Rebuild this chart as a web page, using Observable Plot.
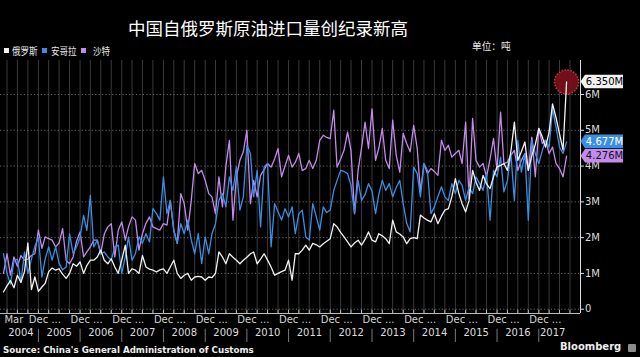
<!DOCTYPE html>
<html><head><meta charset="utf-8">
<script src="https://cdn.jsdelivr.net/npm/d3@7"></script>
<script src="https://cdn.jsdelivr.net/npm/@observablehq/plot@0.6"></script>
<style>
html,body{margin:0;padding:0;background:#000;}
#wrap{position:relative;width:640px;height:357px;overflow:hidden;background:#000;color:#fff;}
#title{position:absolute;left:128px;top:19px;font:17.5px/1 "Noto Sans CJK SC";color:#fff;white-space:nowrap;}
.lg{position:absolute;top:45.5px;font:10px/1 "Noto Sans CJK SC";color:#e8e8e8;white-space:nowrap;transform:scaleX(0.85);transform-origin:0 0;}
.sw{position:absolute;top:48px;width:4.5px;height:4.5px;}
#unit{position:absolute;left:472px;top:41px;font:10.5px/1 "Noto Sans CJK SC";color:#e8e8e8;white-space:nowrap;transform:scaleX(0.92);transform-origin:0 0;}
#chart{position:absolute;left:0;top:58px;}
#source{position:absolute;left:3px;top:345.5px;font:bold 8.7px/1 "DejaVu Sans";color:#eee;white-space:nowrap;}
#brand{position:absolute;left:560px;top:342px;font:bold 10px/1 "DejaVu Sans";color:#eee;white-space:nowrap;}
#logo{position:absolute;left:628px;top:344px;width:8px;height:8px;background:#8c8c8c;border-radius:1px;}
</style></head>
<body>
<div id="wrap">
  <div id="title"></div>
  <div id="legend"></div>
  <div id="unit"></div>
  <div id="chart"></div>
  <div id="source"></div>
  <div id="brand"></div>
  <div id="logo"></div>
</div>
<script>
// ---------- data (million tonnes per month, starting Mar 2004) ----------
const titleText = "中国自俄罗斯原油进口量创纪录新高";
const unitText = "单位：吨";
const sourceText = "Source: China's General Administration of Customs";
const brandText = "Bloomberg";
const startYear = 2004;
const startMonth = 3;
const seriesNames = ["俄罗斯", "安哥拉", "沙特"];
const russia = [
  0.48,0.65,0.80,0.60,0.95,0.75,1.05,1.85,0.55,0.90,
  0.50,0.62,0.72,1.05,1.15,1.09,1.13,0.98,0.86,1.00,
  1.27,1.20,1.32,1.00,1.22,1.37,1.37,1.46,1.65,1.37,
  1.27,1.41,1.18,1.00,1.37,1.79,1.00,1.13,1.09,1.00,
  1.50,1.18,1.12,1.09,1.04,1.10,1.13,1.00,1.18,1.37,
  1.00,0.86,0.95,1.00,0.81,0.90,0.92,0.90,0.81,0.90,
  0.88,1.00,1.60,1.46,1.27,1.55,1.45,1.37,1.27,1.37,
  1.45,1.55,1.60,1.27,1.40,1.55,1.37,1.18,0.95,1.00,
  1.05,1.09,1.37,0.81,1.55,1.55,1.65,1.79,1.65,1.84,
  1.80,1.74,1.83,1.90,1.97,2.39,2.30,2.15,2.02,1.88,
  1.74,1.85,1.93,1.79,1.95,2.16,1.93,1.88,2.11,2.05,
  1.97,1.83,2.49,2.16,2.10,2.02,1.83,1.97,2.00,1.97,
  2.63,2.55,2.49,2.44,2.67,2.39,2.60,2.77,2.81,3.14,
  3.65,3.23,2.95,2.72,3.04,3.88,3.55,3.32,3.74,3.50,
  3.37,3.70,3.98,4.02,4.07,3.88,4.40,5.23,4.16,4.40,
  4.67,3.88,4.30,4.60,5.05,4.81,4.53,4.95,5.74,5.35,
  4.90,4.45,6.35
];
const angola = [
  1.55,1.00,0.70,1.35,1.40,0.75,1.60,1.00,1.40,1.75,
  2.00,0.90,1.40,1.74,1.37,1.74,1.28,1.10,1.18,2.11,
  1.55,1.74,2.02,2.62,2.20,3.18,1.74,1.93,1.55,1.60,
  1.46,1.37,1.74,1.79,1.00,1.46,2.02,1.37,1.55,2.02,
  1.84,2.11,1.88,2.81,2.67,2.49,3.70,2.67,3.04,2.20,
  1.84,2.39,2.11,2.49,1.93,1.55,2.11,1.28,2.02,1.55,
  2.11,2.39,3.04,3.23,2.86,3.70,3.32,3.98,2.77,3.14,
  4.58,4.35,3.14,3.88,2.30,3.98,4.07,1.74,2.95,2.72,
  2.49,2.81,2.58,2.86,2.11,2.67,2.77,2.02,1.93,2.95,
  2.58,2.21,2.86,2.70,2.77,3.32,3.60,3.88,3.85,3.79,
  3.46,2.67,3.60,3.04,3.20,3.51,3.30,2.67,3.20,3.60,
  3.32,3.51,3.14,3.40,3.60,2.95,2.40,2.16,3.97,3.79,
  3.14,4.07,3.88,2.67,2.86,3.14,3.42,3.14,3.04,3.51,
  3.23,3.60,3.46,3.04,3.42,3.23,3.70,3.51,3.32,3.79,
  2.49,3.88,3.70,4.25,3.28,3.60,4.35,3.04,4.72,3.83,
  4.35,2.49,4.72,4.35,4.07,4.44,4.72,4.53,5.60,5.09,
  4.53,4.35,4.677
];
const saudi = [
  1.00,1.55,0.95,1.46,1.20,1.50,1.37,1.40,1.50,1.55,
  2.21,1.70,2.02,1.97,1.93,1.74,1.85,2.25,1.37,1.27,
  1.46,1.90,2.16,1.46,1.60,1.74,1.93,1.93,1.55,2.10,
  2.30,2.39,1.46,2.20,2.44,1.93,2.30,2.58,2.49,1.65,
  2.11,2.40,2.58,2.30,2.25,2.21,2.39,2.35,3.04,2.20,
  1.84,3.23,2.95,2.21,3.04,4.07,3.79,3.88,3.60,3.23,
  3.14,2.67,3.70,2.86,4.00,4.72,2.49,3.70,4.16,4.40,
  5.00,2.95,3.60,3.14,3.74,3.90,4.07,3.97,4.20,4.49,
  3.70,4.00,4.30,3.97,4.10,4.35,3.88,3.93,4.16,3.93,
  4.16,4.72,4.86,4.80,4.77,5.56,3.97,4.20,4.44,4.95,
  4.44,2.67,3.88,4.50,5.23,4.49,5.60,4.16,4.49,5.05,
  4.16,3.93,5.28,4.30,3.83,4.91,4.63,4.40,5.14,4.49,
  3.28,4.07,3.79,3.93,3.85,3.74,4.72,4.44,4.58,4.25,
  4.35,4.44,4.07,5.23,3.09,5.33,4.16,3.97,4.07,3.70,
  4.20,4.77,3.88,5.51,4.07,4.11,4.30,4.44,3.88,4.16,
  4.35,3.88,4.81,3.70,5.05,4.63,4.72,4.35,4.53,4.07,
  3.93,3.70,4.276
];
const yTicks = [0, 1, 2, 3, 4, 5, 6];
const yearLabels = ["2004","2005","2006","2007","2008","2009","2010","2011","2012","2013","2014","2015","2016","2017"];
const firstTickLabel = "Mar";
const yearEndTickLabel = "Dec ...";
const lastValueLabels = ["6.350M", "4.677M", "4.276M"];

// ---------- styling ----------
const seriesColors = ["#f2f2f2", "#3a8fe0", "#c48aec"];
const boxText = ["#000", "#fff", "#111"];

[russia, angola, saudi].forEach(a => { if (a.length !== 163) throw new Error("length " + a.length); });

const dateOf = i => new Date(Date.UTC(startYear, startMonth - 1 + i, 1));
const seriesValues = [russia, angola, saudi];
const rows = [];
[2, 1, 0].forEach(s => seriesValues[s].forEach((v, i) => rows.push({date: dateOf(i), value: v, series: seriesNames[s]})));
const lastIdx = russia.length - 1;
const lastDate = dateOf(lastIdx);

const xMin = new Date(Date.UTC(2004, 1, 4));
const xMax = new Date(Date.UTC(2018, 0, 1));
const yMin = -0.12, yMax = 6.95;

const quarterDates = [];
for (let d = new Date(Date.UTC(2004, 3, 1)); d < xMax; d = new Date(Date.UTC(d.getUTCFullYear(), d.getUTCMonth() + 3, 1))) quarterDates.push(d);
const firstYear = +yearLabels[0], lastYear = +yearLabels[yearLabels.length - 1];
const decDates = [];
for (let y = firstYear; y < lastYear; y++) decDates.push(new Date(Date.UTC(y, 11, 1)));
const janDates = [];
for (let y = firstYear + 1; y <= lastYear; y++) janDates.push(new Date(Date.UTC(y, 0, 1)));
const yearMids = yearLabels.map(lbl => {
  const y = +lbl;
  const a = Math.max(+new Date(Date.UTC(y, 0, 1)), +dateOf(0));
  const b = Math.min(+new Date(Date.UTC(y + 1, 0, 1)), +lastDate);
  return {date: new Date((a + b) / 2), label: lbl};
});

const boxes = [
  {value: russia[lastIdx], text: lastValueLabels[0], fill: seriesColors[0], color: boxText[0]},
  {value: angola[lastIdx], text: lastValueLabels[1], fill: seriesColors[1], color: boxText[1]},
  {value: saudi[lastIdx], text: lastValueLabels[2], fill: seriesColors[2], color: boxText[2]}
];

function valueBoxes(index, scales, values, dimensions) {
  const g = d3.create("svg:g");
  const x0 = dimensions.width - dimensions.marginRight;
  for (const b of boxes) {
    const cy = scales.y(b.value);
    g.append("path")
      .attr("d", `M${x0 + 0.5},${cy} L${x0 + 5},${cy - 6.8} H${x0 + 43} V${cy + 6.8} H${x0 + 5} Z`)
      .attr("fill", b.fill);
    g.append("text")
      .attr("x", x0 + 24.5).attr("y", cy).attr("dy", "0.36em")
      .attr("text-anchor", "middle")
      .attr("font-family", "DejaVu Sans").attr("font-size", 10)
      .attr("fill", b.color).text(b.text);
  }
  return g.node();
}

const chart = Plot.plot({
  width: 640,
  height: 287,
  marginLeft: 0,
  marginRight: 60,
  marginTop: 2,
  marginBottom: 32,
  style: {background: "#000", color: "#ddd", fontFamily: "DejaVu Sans", fontSize: "10px"},
  x: {type: "utc", domain: [xMin, xMax], axis: null},
  y: {domain: [yMin, yMax], axis: null},
  color: {domain: seriesNames, range: seriesColors},
  marks: [
    Plot.ruleX(quarterDates, {stroke: "#3a3a3a", strokeWidth: 1}),
    Plot.ruleY(yTicks, {stroke: "#6a6a6a", strokeDasharray: "1.2,2.2", strokeWidth: 1}),
    Plot.ruleY([yMin], {stroke: "#bdbdbd", strokeWidth: 1}),
    Plot.ruleX(quarterDates, {y1: yMin, y2: yMin + 0.09, stroke: "#bdbdbd"}),
    Plot.ruleX([xMax], {stroke: "#dcdcdc", strokeWidth: 1}),
    Plot.axisY({anchor: "right", label: null, ticks: yTicks, tickSize: 3, tickPadding: 1.5,
      tickFormat: d => d === 0 ? "0" : d + "M", color: "#dcdcdc", fontSize: 10}),
    Plot.dot([{date: lastDate, value: russia[lastIdx]}], {x: "date", y: "value", r: 12,
      fill: "#7c0f1b", fillOpacity: 0.92, stroke: "#b8404d", strokeDasharray: "1.5,1.5"}),
    Plot.line(rows, {x: "date", y: "value", z: "series", stroke: "series", strokeWidth: 1.3, strokeLinejoin: "round"}),
    Plot.text([dateOf(0)], {x: d => d, text: () => firstTickLabel, frameAnchor: "bottom", dy: 9.5,
      textAnchor: "start", dx: 1, fill: "#d0d0d0", fontSize: 10}),
    Plot.text(decDates, {x: d => d, text: () => yearEndTickLabel, frameAnchor: "bottom", dy: 9.5,
      textAnchor: "start", dx: -6, fill: "#d0d0d0", fontSize: 10}),
    Plot.text(yearMids, {x: "date", text: "label", frameAnchor: "bottom", dy: 22,
      fill: "#dedede", fontSize: 10}),
    Plot.ruleX(janDates, {y1: -0.56, y2: -0.93, stroke: "#7a7a7a"}),
    valueBoxes
  ]
});
document.getElementById("chart").appendChild(chart);

// ---------- header / footer ----------
document.getElementById("title").textContent = titleText;
document.getElementById("unit").textContent = unitText;
document.getElementById("source").textContent = sourceText;
document.getElementById("brand").textContent = brandText;
const legend = document.getElementById("legend");
const swX = [4, 42, 81], txX = [12, 51, 93];
seriesNames.forEach((name, i) => {
  const sw = document.createElement("div");
  sw.className = "sw"; sw.style.left = swX[i] + "px"; sw.style.background = seriesColors[i];
  legend.appendChild(sw);
  const tx = document.createElement("div");
  tx.className = "lg"; tx.style.left = txX[i] + "px"; tx.textContent = name;
  legend.appendChild(tx);
});
</script>
</body></html>
